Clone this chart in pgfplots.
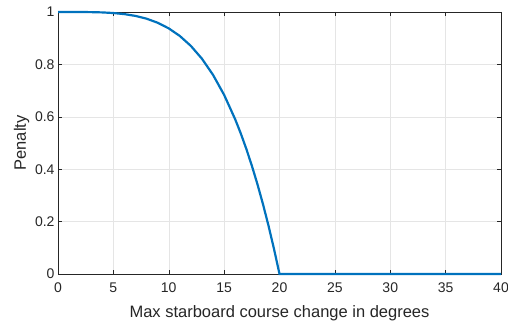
\documentclass[border=0pt]{standalone}
\usepackage{pgfplots}
\pgfplotsset{compat=1.18}
\usepackage{fontspec}
\setmainfont{Liberation Sans}
\definecolor{mblue}{RGB}{0,114,189}
\definecolor{axgray}{RGB}{38,38,38}
\begin{document}
\begin{tikzpicture}
\begin{axis}[
  name=ax,
  scale only axis,
  width=443bp, height=262bp,
  xmin=0, xmax=40, ymin=0, ymax=1,
  xtick={0,5,...,40},
  ytick={0,0.2,0.4,0.6,0.8,1},
  yticklabels={0,0.2,0.4,0.6,0.8,1},
  xticklabels={0,5,10,15,20,25,30,35,40},
  grid=major,
  major grid style={draw=black!10, line width=0.5pt},
  axis line style={draw=axgray, line width=0.5pt},
  tick style={draw=axgray, line width=0.5pt},
  tick align=inside,
  major tick length=4bp,
  ticklabel style={font=\fontsize{14bp}{16bp}\selectfont, text=axgray},
  xticklabel style={yshift=-5bp},
  label style={font=\fontsize{16.5bp}{19bp}\selectfont, text=axgray},
  xlabel={Max starboard course change in degrees},
  ylabel={Penalty},
  xlabel style={yshift=-6bp},
  ylabel style={yshift=-1bp},
  clip=false,
]
\addplot[mblue, line width=2.2pt] coordinates {
(0,1.0000) (1,1.0000) (2,0.9999) (3,0.9995) (4,0.9984) (5,0.9961)
(6,0.9919) (7,0.9850) (8,0.9744) (9,0.9590) (10,0.9375) (11,0.9085)
(12,0.8704) (13,0.8215) (14,0.7599) (15,0.6836) (16,0.5904) (16.5,0.5368)
(17,0.4780) (17.5,0.4138) (18,0.3439) (18.5,0.2679) (19,0.1855) (19.5,0.0963)
(20,0) (40,0)
};
\end{axis}
\pgfresetboundingbox
\path ([shift={(-58bp,-49bp)}]ax.south west) rectangle ([shift={(7bp,12bp)}]ax.north east);
\end{tikzpicture}
\end{document}
